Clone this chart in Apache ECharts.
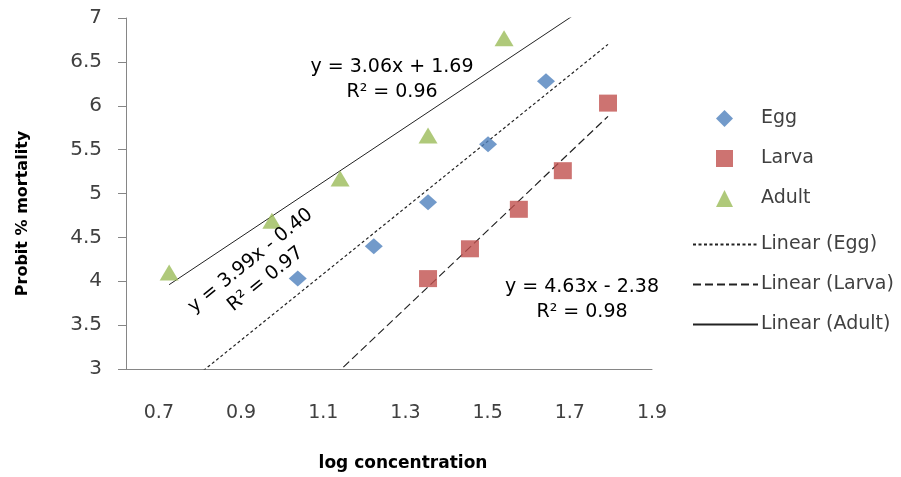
<!DOCTYPE html>
<html>
<head>
<meta charset="utf-8">
<script src="https://cdn.jsdelivr.net/npm/echarts@6/dist/echarts.min.js"></script>
<style>
  html, body { margin: 0; padding: 0; background: #fff; }
  #chart { width: 901px; height: 477px; }
</style>
</head>
<body>
<div id="chart"></div>
<script>
// values (log concentration, probit % mortality)
var eggX = [1.038, 1.223, 1.355, 1.501, 1.642];
var eggY = [4.03, 4.40, 4.90, 5.56, 6.28];
var larvaX = [1.355, 1.457, 1.576, 1.683, 1.793];
var larvaY = [4.03, 4.37, 4.82, 5.26, 6.03];
var adultX = [0.725, 0.975, 1.141, 1.355, 1.540];
var adultY = [4.10, 4.69, 5.17, 5.66, 6.77];
var xLabels = [0.7, 0.9, 1.1, 1.3, 1.5, 1.7, 1.9];
var eqEgg = 'y = 3.99x - 0.40\nR² = 0.97';
var eqLarva = 'y = 4.63x - 2.38\nR² = 0.98';
var eqAdult = 'y = 3.06x + 1.69\nR² = 0.96';

var FONT = '"DejaVu Sans", sans-serif';
var TXT = '#404040';
var AXIS = '#868686';
var LINE = '#222';

function pairs(xs, ys) {
  return xs.map(function (x, i) { return [x, ys[i]]; });
}

// least squares fit, like the Excel trendline
function fit(xs, ys) {
  var n = xs.length, mx = 0, my = 0, sxy = 0, sxx = 0;
  for (var i = 0; i < n; i++) { mx += xs[i]; my += ys[i]; }
  mx /= n; my /= n;
  for (var j = 0; j < n; j++) {
    sxy += (xs[j] - mx) * (ys[j] - my);
    sxx += (xs[j] - mx) * (xs[j] - mx);
  }
  var a = sxy / sxx;
  return { a: a, b: my - a * mx };
}

var allX = eggX.concat(larvaX, adultX);
var xLo = Math.min.apply(null, allX);
var xHi = Math.max.apply(null, allX);

function trend(xs, ys) {
  var f = fit(xs, ys);
  return [xLo, xHi].map(function (x) { return [x, f.a * x + f.b]; });
}

var chart = echarts.init(document.getElementById('chart'));

chart.setOption({
  animation: false,
  backgroundColor: '#fff',
  textStyle: { fontFamily: FONT },
  grid: { left: 126, top: 18, right: 249, bottom: 107 },
  legend: [
    {
      // markers
      orient: 'vertical',
      left: 711,
      top: 104,
      itemWidth: 17,
      itemHeight: 17,
      itemGap: 21,
      textStyle: { fontFamily: FONT, fontSize: 19, color: TXT, padding: [0, 0, 0, 23] },
      data: [
        { name: 'Egg', icon: 'diamond' },
        { name: 'Larva', icon: 'rect' },
        { name: 'Adult', icon: 'triangle' }
      ]
    },
    {
      // trendlines
      orient: 'vertical',
      left: 687,
      top: 230,
      itemWidth: 65,
      itemHeight: 16,
      itemGap: 21,
      itemStyle: { opacity: 0 },
      textStyle: { fontFamily: FONT, fontSize: 19, color: TXT, padding: [0, 0, 0, -2] },
      data: ['Linear (Egg)', 'Linear (Larva)', 'Linear (Adult)']
    }
  ],
  xAxis: {
    type: 'value',
    min: 0.62,
    max: 1.9,
    name: 'log concentration',
    nameLocation: 'middle',
    nameGap: 86,
    nameTextStyle: { fontFamily: FONT, fontSize: 17, fontWeight: 'bold', color: '#000', padding: [0, 0, 0, 28] },
    axisLine: { lineStyle: { color: AXIS, width: 1 } },
    axisTick: { show: false },
    splitLine: { show: false },
    axisLabel: {
      customValues: xLabels,
      margin: 35,
      fontSize: 19,
      color: TXT,
      fontFamily: FONT,
      formatter: function (v) { return v.toFixed(1); }
    }
  },
  yAxis: {
    type: 'value',
    min: 3,
    max: 7,
    interval: 0.5,
    name: 'Probit % mortality',
    nameLocation: 'middle',
    nameGap: 95,
    nameTextStyle: { fontFamily: FONT, fontSize: 16, fontWeight: 'bold', color: '#000', padding: [0, 40, 0, 0] },
    axisLine: { show: true, lineStyle: { color: AXIS, width: 1 } },
    axisTick: { show: true, inside: false, length: 8, lineStyle: { color: AXIS } },
    splitLine: { show: false },
    axisLabel: { margin: 24, fontSize: 20, color: TXT, fontFamily: FONT }
  },
  series: [
    {
      name: 'Egg', type: 'scatter', symbol: 'diamond', symbolSize: [18, 16],
      itemStyle: { color: '#4F81BD' }, data: pairs(eggX, eggY), z: 3
    },
    {
      name: 'Larva', type: 'scatter', symbol: 'rect', symbolSize: [18, 17],
      itemStyle: { color: '#C0504D' }, data: pairs(larvaX, larvaY), z: 3
    },
    {
      name: 'Adult', type: 'scatter', symbol: 'triangle', symbolSize: [19, 16],
      itemStyle: { color: '#9BBB59' }, data: pairs(adultX, adultY), z: 3
    },
    {
      name: 'Linear (Egg)', type: 'line', symbol: 'none', clip: true,
      lineStyle: { color: LINE, width: 1.2, type: [3, 2.5] },
      itemStyle: { color: LINE },
      data: trend(eggX, eggY), z: 2
    },
    {
      name: 'Linear (Larva)', type: 'line', symbol: 'none', clip: true,
      lineStyle: { color: LINE, width: 1.2, type: [8, 4] },
      itemStyle: { color: LINE },
      data: trend(larvaX, larvaY), z: 2
    },
    {
      name: 'Linear (Adult)', type: 'line', symbol: 'none', clip: true,
      lineStyle: { color: LINE, width: 1, type: 'solid' },
      itemStyle: { color: LINE },
      data: trend(adultX, adultY), z: 2
    }
  ],
  graphic: [
    {
      type: 'text', x: 392, y: 80, z: 10,
      style: { text: eqAdult, font: '19px ' + FONT, fill: '#000', align: 'center', verticalAlign: 'middle', lineHeight: 25 }
    },
    {
      type: 'text', x: 582, y: 300, z: 10,
      style: { text: eqLarva, font: '19px ' + FONT, fill: '#000', align: 'center', verticalAlign: 'middle', lineHeight: 25 }
    },
    {
      type: 'text', x: 258, y: 270, rotation: 0.68, z: 10,
      style: { text: eqEgg, font: '19px ' + FONT, fill: '#000', align: 'center', verticalAlign: 'middle', lineHeight: 24 }
    }
  ]
});
</script>
</body>
</html>
